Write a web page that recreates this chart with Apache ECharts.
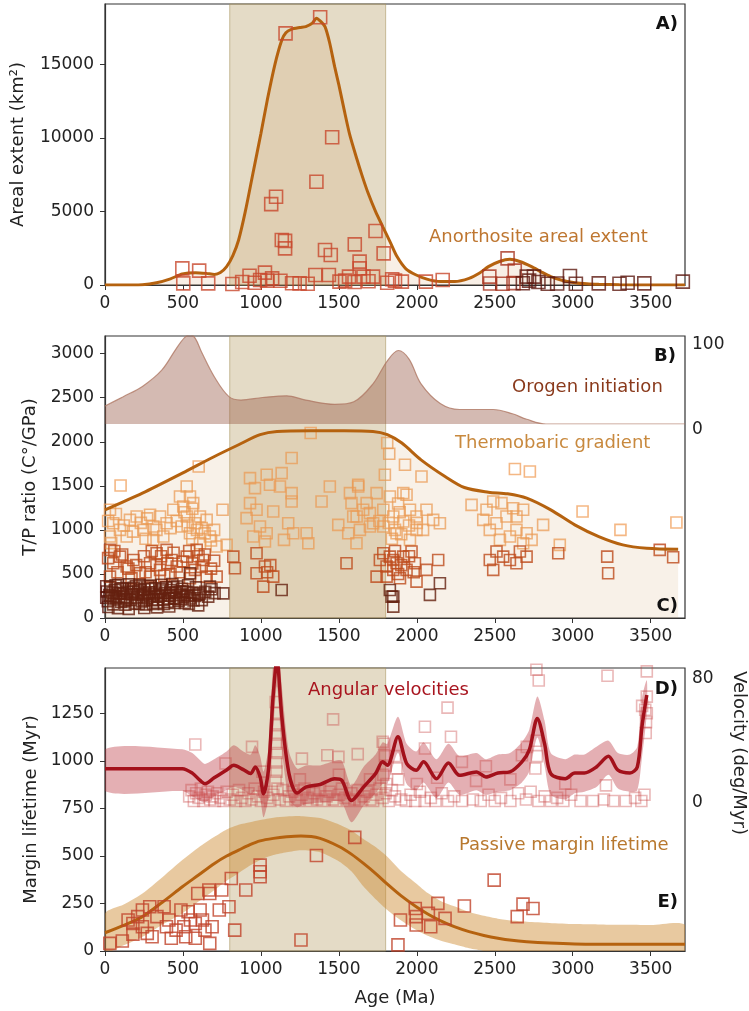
<!DOCTYPE html>
<html><head><meta charset="utf-8">
<script src="https://cdn.jsdelivr.net/npm/echarts@6/dist/echarts.min.js"></script>
<style>html,body{margin:0;padding:0;background:#fff}#c{width:749px;height:1011px}</style>
</head><body><div id="c"></div>
<script>
// ---------- Data ----------
const bandRange = [800,1800];

// Panel A: anorthosite areal extent (km2)
const aCurve = [[0,0],[150,5],[240,20],[330,150],[420,420],[496,750],[580,840],[650,790],[702,720],[740,850],[780,1250],[820,2000],[857,3060],[900,5000],[949,7600],[1000,10300],[1041,12580],[1090,15000],[1134,16650],[1160,17150],[1195,17380],[1250,17500],[1288,17560],[1330,17800],[1356,18130],[1385,17900],[1411,17560],[1440,16500],[1473,14840],[1500,13600],[1534,11900],[1570,10200],[1611,8720],[1650,7400],[1688,6230],[1735,5000],[1781,3970],[1830,2900],[1873,1930],[1930,1100],[1996,680],[2070,380],[2150,230],[2243,230],[2335,450],[2400,800],[2459,1250],[2530,1600],[2597,1745],[2660,1600],[2736,1250],[2800,880],[2859,570],[2930,320],[3013,160],[3090,80],[3167,45],[3300,15],[3500,5],[3720,0]];
const aRed = [[496,1130],[604,975],[502,110],[662,110],[817,70],[927,630],[1026,840],[995,340],[1072,450],[1125,290],[1066,5500],[1097,6000],[1158,17100],[1134,3060],[1155,3000],[1155,2490],[1248,110],[1356,7020],[1380,18200],[1349,680],[1411,2380],[1448,2040],[1457,10040],[1436,680],[1504,230],[1565,570],[1602,2760],[1633,1590],[1633,1130],[1735,3670],[1787,2150],[1658,570],[1719,570],[1842,390],[1904,230],[2058,230],[2166,340],[880,200],[960,150],[1040,300],[1200,120],[1300,80],[1540,300],[1600,200],[1690,250],[1810,150],[1860,300]];
const aMid = [[2465,570],[2582,1810],[2628,975],[2470,100],[2550,80],[2620,130]];
const aDark = [[2705,570],[2751,570],[2720,300],[2780,200],[2680,120],[2840,80],[2900,100],[2982,610],[3020,80],[3167,110],[3300,90],[3352,150],[3459,110],[3706,230]];

// Panel B: orogen initiation (0-100)
const bCurve = [[0,21],[117,32],[240,44],[364,63],[456,88],[510,101],[545,105],[580,100],[620,84],[702,55],[795,32],[872,28],[1011,31],[1165,33],[1288,28],[1473,23],[1596,26],[1719,47],[1811,74],[1882,86],[1950,76],[2027,47],[2150,24],[2274,17],[2397,17],[2489,17],[2613,12],[2705,5.5],[2828,0],[3720,0]];

// Panel C: thermobaric gradient (T/P ratio)
const cCurve = [[0,1227],[240,1417],[496,1644],[702,1833],[857,1966],[995,2080],[1103,2117],[1319,2125],[1534,2125],[1719,2117],[1811,2080],[1904,1985],[2027,1795],[2181,1606],[2305,1481],[2459,1428],[2582,1409],[2705,1360],[2859,1227],[3013,1057],[3167,924],[3321,830],[3475,792],[3676,780]];
const cLight = [[100,1504],[32,1228],[53,1076],[96,1000],[139,924],[32,924],[289,1171],[353,1152],[310,1038],[395,1076],[246,1000],[374,924],[502,1265],[524,1493],[545,1379],[566,1303],[524,1152],[492,1038],[577,1076],[609,1152],[545,962],[652,1114],[601,1720],[754,1228],[716,811],[780,830],[438,1228],[481,1379],[203,1152],[160,1114],[310,886],[609,849],[673,924],[20,1100],[70,1180],[120,1050],[180,980],[230,1080],[270,1130],[330,1000],[420,1020],[460,1100],[510,1200],[530,1050],[560,1240],[590,1000],[620,1020],[640,960],[680,880],[700,1000],[560,900],[40,850],[260,900],
[930,1587],[962,1474],[1037,1625],[1058,1512],[1133,1644],[1197,1815],[1197,1417],[1197,1322],[1122,1493],[930,1303],[972,1228],[908,1133],[994,1038],[951,924],[1037,962],[1026,868],[1079,1209],[1175,1076],[1148,886],[1207,962],[1293,962],[1304,849],[1319,2099],[1389,1322],[1442,1493],[1496,1057],[1571,1417],[1624,1512],[1581,1303],[1592,1152],[1656,1228],[1635,1000],[1560,962],[1613,849],[1720,1076],[1742,1417],[1699,1190],
[1810,1985],[1823,1864],[1924,1739],[1795,1625],[2030,1606],[1827,1379],[1913,1417],[1934,1398],[1624,1493],[1678,1303],[1785,1228],[1849,1152],[1913,1095],[1956,1228],[1998,1152],[2062,1228],[2105,1114],[2148,1076],[1998,1000],[1870,962],[1785,1038],[1956,886],[1699,1038],[1614,1152],[1820,1080],[1860,1000],[1890,1200],[1840,900],[1900,950],[1950,1050],[2000,1080],[2040,1000],[1880,1300],[1760,1100],
[2351,1284],[2447,1228],[2490,1322],[2543,1303],[2468,1000],[2511,1076],[2575,1152],[2618,1246],[2639,1152],[2682,1228],[2639,1000],[2704,962],[2736,886],[2597,924],[2533,886],[2810,1057],[2629,1690],[2725,1663],[2917,830],[3063,1209],[3306,1000],[3665,1084],[2426,1114],[2682,849]];
const cMed = [[32,773],[53,621],[96,697],[182,659],[32,470],[289,621],[331,735],[395,773],[427,659],[353,546],[289,470],[460,584],[524,697],[588,773],[630,659],[577,546],[652,470],[545,451],[224,508],[716,470],[139,584],[60,760],[110,720],[150,560],[250,700],[300,760],[360,700],[400,620],[440,740],[480,520],[500,640],[540,760],[600,700],[620,580],[680,560],[700,650],[420,500],[260,520],[200,600],[80,520],[170,450],[330,600],[380,480],[560,620],[640,720],[20,680],
[823,697],[833,565],[972,735],[972,508],[1026,584],[1079,470],[1015,356],[1040,520],[1060,600],[1549,621],[1742,470],[1785,735],[1806,584],[1849,659],
[1827,697],[1870,621],[1913,697],[1966,754],[1849,546],[1934,546],[1892,451],[1806,470],[1763,659],[1988,621],[2062,546],[2137,659],[1998,413],[1880,500],[1900,600],[1950,700],[1860,760],[1980,520],
[2468,659],[2490,546],[2554,697],[2597,659],[2661,754],[2704,697],[2639,621],[2511,754],[2907,735],[3221,697],[3227,508],[3558,773],[3644,689]];
const cDark = [[12,300],[18,190],[33,352],[41,248],[52,155],[63,318],[72,226],[84,377],[93,279],[104,183],[112,338],[124,237],[131,152],[143,297],[152,381],[163,204],[172,268],[184,343],[191,163],[205,232],[213,301],[222,376],[236,188],[244,262],[252,328],[263,154],[271,223],[284,292],[293,367],[302,203],[313,268],[322,338],[334,172],[343,243],[351,312],[362,377],[373,208],[384,282],[392,348],[403,183],[414,252],[423,318],[432,386],[443,224],[452,288],[463,357],[472,193],[484,262],[494,332],[503,243],[512,172],[523,298],[533,372],[546,221],[561,288],[583,348],[602,262],[621,203],[643,297],[662,243],[683,327],[703,282],[598,143],[22,124],[83,112],[152,104],[252,113],[334,121],[412,130],
[28,260],[58,210],[98,330],[138,210],[178,300],[218,160],[258,280],[298,330],[338,210],[378,160],[418,290],[458,220],[498,300],[538,160],[578,250],[118,280],[198,360],[278,360],[358,260],[438,350],
[8,230],[48,290],[88,240],[128,190],[168,330],[208,270],[248,200],[288,250],[328,290],[368,330],[408,220],[448,170],[488,210],[528,260],[568,200],[8,360],[68,370],[228,320],[308,160],[478,300],
[545,508],[759,280],[1133,318],[673,356],[609,280],[1849,243],[1849,129],[1827,318],[1838,243],[2084,262],[2148,394]];

// Panel D: angular velocities (deg/Myr)
const dX    = [0,496,560,610,641,700,780,826,887,934,964,995,1017,1048,1078,1103,1134,1180,1232,1288,1380,1473,1519,1581,1658,1735,1781,1811,1879,1935,1996,2043,2126,2203,2274,2382,2443,2520,2597,2674,2721,2773,2819,2859,2952,3013,3075,3152,3229,3290,3367,3414,3445,3475];
const dLine = [21.9,21.9,19,14.3,12.2,16,21,24.1,21.3,18.7,23,16.5,5.7,20.9,68.5,92,55.5,18.7,6.1,10,11.7,15.4,14.3,1.3,10,18.7,26.3,24.1,42.5,25.2,20.9,26.3,15.4,25.6,17.6,19.8,16.5,19.1,19.8,26.3,33.9,54.4,38.2,18.7,15.4,19.1,19.1,23,29.9,20.9,19.1,23,50,69.6];
const dLow  = [7.4,7.4,4,1,0,4,8,10,8,5,8,2,-9.5,3,45,75,35,2,-3,-1,0,1,0,-12.7,-2,6,12,12,32,12,8,13,3,13,5,8,5,7,8,13,20,42,24,5,2,6,7,10,18,9,7,8,30,57.7];
const dHigh = [34.5,34.5,32,27.4,25,28,33,37,33,31,37,30,20,35,90,110,75,33,22,24,24,27,27,11,23,31,39,38,55.5,38,33,39,28,38,30,32,28,31,32,39,47,68.5,53,32,28,31,31,36,40,32,31,36,68,79];
const dPts = [[540,4],[555,8],[570,1],[585,6],[600,3],[615,9],[630,1],[645,5],[660,7],[675,2],[690,4],[705,1],[720,6],[740,3],[760,1],[780,7],[800,2],[820,5],[840,1],[860,8],[880,3],[900,1],[920,6],[940,2],[960,9],[980,4],[1000,1],[1020,7],[1040,3],[1060,1],[1080,5],[1120,2],[1140,8],[1160,1],[1180,4],[1200,7],[1220,2],[1240,1],[1260,5],[1280,9],[1300,3],[1320,1],[1340,6],[1360,2],[1380,8],[1400,1],[1420,4],[1440,7],[1460,2],[1480,1],[1500,5],[1520,9],[1540,3],[1560,1],[1580,6],[1600,2],[1620,8],[1640,1],[1660,4],[1680,7],[1700,2],[1720,1],[1740,5],[1760,9],[1780,3],[1800,6],[1820,1],[1840,8],[1860,4],[1900,2],[1930,1],[1960,5],[1990,1],[2020,7],[2050,1],[2090,3],[2120,1],[2160,6],[2200,1],[2240,4],[2290,1],[2360,2],[2410,1],[2460,5],[2500,1],[2540,3],[2600,1],[2650,6],[2700,2],[2730,7],[2780,1],[2820,4],[2860,1],[2900,3],[2940,1],[2990,5],[3050,1],[3130,1],[3200,2],[3260,1],[3340,1],[3400,3],[3440,1],[3460,5],
[579,37.5],[773,25.2],[943,36],[1263,28.4],[1463,53.8],[1426,30.6],[1497,29.5],[1621,31.3],[1781,39.3],[2052,49],[2052,34.9],[2197,61.4],[2219,42.5],[2767,85.9],[2782,78.9],[3223,82],[3475,84.8],[3475,57.7],[3475,68.5],[3445,62.5],[2705,36],[2674,30.6],[2289,26.3],[2443,23.5],[2952,12.2],[3213,11.1],[1010,20],[1500,18],[1700,15],[1250,15],[2000,12],[2130,16],[2380,14],[2600,15],
[1095,65],[1100,58],[1098,50],[1102,44],[1096,38],[1104,32],[1098,26],[1100,20],[1094,14],[1106,9],[1790,38],[1795,30],[1800,24],[1785,18],[1805,12],[1860,30],[1870,22],[1880,15],[2765,40],[2770,30],[2760,22],[3465,60],[3470,52],[3468,45]];

// Panel E: passive margin lifetime (Myr)
const eX    = [0,120,240,370,496,600,702,780,857,930,995,1080,1165,1257,1380,1504,1580,1658,1740,1811,1900,1996,2070,2150,2240,2335,2430,2520,2610,2705,2850,3013,3160,3321,3500,3720];
const eLine = [96,135,181,258,338,400,461,500,531,560,580,593,601,605,593,549,510,461,405,352,290,233,195,160,128,102,82,67,56,49,42,37,36,35,35,35];
const eLow  = [-5,30,75,140,198,260,321,370,410,450,479,505,520,531,520,470,420,340,270,216,160,110,80,55,35,14,0,-15,-30,-45,-55,-62,-65,-67,-67,-67];
const eHigh = [198,245,303,390,479,545,601,640,665,678,690,702,708,710,700,665,635,590,545,496,420,356,305,265,235,205,185,170,160,154,148,142,140,138,137,137];
const ePts = [[31,40],[111,53],[148,163],[179,145],[210,181],[240,216],[287,233],[179,89],[271,93],[302,75],[379,233],[410,163],[425,67],[456,110],[506,128],[533,207],[548,163],[579,145],[595,303],[610,216],[625,163],[518,75],[579,67],[641,110],[672,303],[666,321],[687,128],[672,40],[733,216],[749,321],[795,233],[810,382],[832,110],[903,321],[995,391],[995,452],[995,417],[333,181],[487,216],[240,128],[394,128],[1257,58],[1356,503],[1602,598],[1879,32],[1895,163],[1990,224],[1996,181],[1996,137],[2074,198],[2089,128],[2135,251],[2181,172],[2305,237],[2496,373],[2644,181],[2681,247],[2745,224]];

// ---------- Chart ----------
const FONT = 'DejaVu Sans';
const AX = '#333';
const XMAX = 3720;
const plain = v => String(v);
function xAxis(gi, showLabels, extra) {
  return Object.assign({
    type:'value', gridIndex:gi, min:0, max:XMAX, interval:500,
    axisLine:{show:true, onZero:false, lineStyle:{color:AX, width:1.2}},
    axisTick:{show:showLabels, length:5, lineStyle:{color:AX}},
    axisLabel:{show:showLabels, showMaxLabel:false, fontSize:17, color:'#222', fontFamily:FONT, margin:10, formatter:plain},
    splitLine:{show:false}
  }, extra||{});
}
function yLeft(gi, max, interval, name, gap) {
  return {
    type:'value', gridIndex:gi, position:'left', min:0, max:max, interval:interval,
    name:name, nameLocation:'middle', nameGap:gap, nameRotate:90,
    nameTextStyle:{fontSize:18, color:'#222', fontFamily:FONT},
    axisLine:{show:true, lineStyle:{color:AX, width:1.2}},
    axisTick:{show:true, length:5, lineStyle:{color:AX}},
    axisLabel:{showMaxLabel:false, fontSize:17, color:'#222', fontFamily:FONT, margin:11, formatter:plain},
    splitLine:{show:false}
  };
}
function yRightLabels(gi, min, max, interval, shown) {
  return {
    type:'value', gridIndex:gi, position:'right', min:min, max:max, interval:interval,
    axisLine:{show:false}, axisTick:{show:false}, splitLine:{show:false},
    axisLabel:{interval:0, showMinLabel:true, showMaxLabel:false, fontSize:17, color:'#222', fontFamily:FONT, margin:7,
      formatter: v => shown.indexOf(v) >= 0 ? String(v) : ''}
  };
}
function scatter(data, xi, yi, color, size, z) {
  return {type:'scatter', xAxisIndex:xi, yAxisIndex:yi, data:data, symbol:'rect', symbolSize:size, z:z||5,
    itemStyle:{color:'rgba(0,0,0,0)', borderColor:color, borderWidth:1.6}, silent:true};
}
function bandSeries(xi, yi) {
  return {type:'line', xAxisIndex:xi, yAxisIndex:yi, data:[[0,0]], symbol:'none', lineStyle:{opacity:0}, z:1, silent:true,
    markArea:{silent:true, itemStyle:{color:'rgba(190,170,120,0.42)', borderColor:'rgba(170,150,100,0.6)', borderWidth:1},
      data:[[{xAxis:bandRange[0]},{xAxis:bandRange[1]}]]}};
}
// Uncertainty envelope drawn as polygon through the axes' scales
function envelope(xs, lo, hi, xi, yi, color, z) {
  return {type:'custom', xAxisIndex:xi, yAxisIndex:yi, coordinateSystem:'cartesian2d', clip:true, silent:true, z:z||2,
    data: xs.map((x,i)=>[x, lo[i], hi[i]]),
    renderItem: (params, api) => {
      if (params.dataIndex !== 0) return null;
      const upper = xs.map((x,i)=>api.coord([x, hi[i]]));
      const lower = xs.map((x,i)=>api.coord([x, lo[i]])).reverse();
      return {type:'polygon', shape:{points:upper.concat(lower), smooth:0.25}, style:{fill:color, stroke:null}};
    }};
}

const grids = [
  {left:105, right:64, top:4, height:281, show:true, borderColor:AX, borderWidth:1.2},
  {left:105, right:64, top:336, height:282, show:true, borderColor:AX, borderWidth:1.2},
  {left:105, right:64, top:336, height:88, show:false},
  {left:105, right:64, top:668, height:283, show:true, borderColor:AX, borderWidth:1.2}
];

const option = {
  animation:false,
  backgroundColor:'#fff',
  textStyle:{fontFamily:FONT},
  grid: grids,
  xAxis: [
    xAxis(0, true),
    xAxis(1, true),
    xAxis(2, false, {show:false}),
    xAxis(3, true, {name:'Age (Ma)', nameLocation:'middle', nameGap:38, nameTextStyle:{fontSize:18, color:'#222', fontFamily:FONT}})
  ],
  yAxis: [
    yLeft(0, 19100, 5000, 'Areal extent (km²)', 78),
    yLeft(1, 3200, 500, 'T/P ratio (C°/GPa)', 66),
    yRightLabels(1, -220, 110, 10, [0,100]),
    {type:'value', gridIndex:2, min:0, max:103, show:false},
    yLeft(3, 1490, 250, 'Margin lifetime (Myr)', 64),
    yRightLabels(3, -96, 87, 8, [0,80])
  ],
  series: [
    // Panel A
    bandSeries(0,0),
    {type:'line', xAxisIndex:0, yAxisIndex:0, data:aCurve, smooth:0.25, symbol:'none', z:4,
     lineStyle:{color:'#b5620f', width:3}, areaStyle:{color:'rgba(195,120,45,0.17)'}},
    scatter(aRed,0,0,'#c8472c',13),
    scatter(aMid,0,0,'#a83420',13),
    scatter(aDark,0,0,'#5e1a12',13),
    // Panel B
    {type:'line', xAxisIndex:2, yAxisIndex:3, data:bCurve, smooth:0.35, symbol:'none', z:2,
     lineStyle:{color:'rgba(175,120,100,0.8)', width:1.2}, areaStyle:{color:'rgba(150,85,65,0.58)'}},
    // Panel C
    bandSeries(1,1),
    {type:'line', xAxisIndex:1, yAxisIndex:1, data:cCurve, smooth:0.3, symbol:'none', z:6,
     lineStyle:{color:'#b5620f', width:3}, areaStyle:{color:'rgba(200,140,75,0.18)'}},
    scatter(cLight,1,1,'rgba(240,155,85,0.9)',11),
    scatter(cMed,1,1,'#bd4217',11),
    scatter(cDark,1,1,'#581208',11),
    // Panel D / E
    bandSeries(3,4),
    envelope(eX, eLow, eHigh, 3, 4, 'rgba(205,135,45,0.45)', 2),
    {type:'line', xAxisIndex:3, yAxisIndex:4, data:eX.map((x,i)=>[x,eLine[i]]), smooth:0.3, symbol:'none', z:4,
     lineStyle:{color:'#b5620f', width:3}},
    scatter(ePts,3,4,'#c0442a',12),
    envelope(dX, dLow, dHigh, 3, 5, 'rgba(185,45,55,0.38)', 2),
    scatter(dPts,3,5,'rgba(200,70,70,0.48)',11,3),
    {type:'line', xAxisIndex:3, yAxisIndex:5, data:dX.map((x,i)=>[x,dLine[i]]), smooth:0.3, symbol:'none', z:6,
     lineStyle:{color:'#a3111b', width:3.5}}
  ],
  graphic: [
    {type:'text', x:429, y:237, style:{text:'Anorthosite areal extent', fill:'#be7630', font:'18px "DejaVu Sans"', align:'left', verticalAlign:'middle', textAlign:'left', textVerticalAlign:'middle'}, z:100},
    {type:'text', x:512, y:387, style:{text:'Orogen initiation', fill:'#8a3a1c', font:'18px "DejaVu Sans"', align:'left', verticalAlign:'middle', textAlign:'left', textVerticalAlign:'middle'}, z:100},
    {type:'text', x:455, y:443, style:{text:'Thermobaric gradient', fill:'#c8893e', font:'18px "DejaVu Sans"', align:'left', verticalAlign:'middle', textAlign:'left', textVerticalAlign:'middle'}, z:100},
    {type:'text', x:308, y:690, style:{text:'Angular velocities', fill:'#a8141e', font:'18px "DejaVu Sans"', align:'left', verticalAlign:'middle', textAlign:'left', textVerticalAlign:'middle'}, z:100},
    {type:'text', x:459, y:845, style:{text:'Passive margin lifetime', fill:'#b8782e', font:'18px "DejaVu Sans"', align:'left', verticalAlign:'middle', textAlign:'left', textVerticalAlign:'middle'}, z:100},
    {type:'text', x:678, y:24, style:{text:'A)', fill:'#111', font:'bold 18px "DejaVu Sans"', align:'right', verticalAlign:'middle', textAlign:'right', textVerticalAlign:'middle'}, z:100},
    {type:'text', x:676, y:356, style:{text:'B)', fill:'#111', font:'bold 18px "DejaVu Sans"', align:'right', verticalAlign:'middle', textAlign:'right', textVerticalAlign:'middle'}, z:100},
    {type:'text', x:678, y:606, style:{text:'C)', fill:'#111', font:'bold 18px "DejaVu Sans"', align:'right', verticalAlign:'middle', textAlign:'right', textVerticalAlign:'middle'}, z:100},
    {type:'text', x:678, y:689, style:{text:'D)', fill:'#111', font:'bold 18px "DejaVu Sans"', align:'right', verticalAlign:'middle', textAlign:'right', textVerticalAlign:'middle'}, z:100},
    {type:'text', x:678, y:902, style:{text:'E)', fill:'#111', font:'bold 18px "DejaVu Sans"', align:'right', verticalAlign:'middle', textAlign:'right', textVerticalAlign:'middle'}, z:100},
    {type:'text', x:739, y:753, rotation:-Math.PI/2, style:{text:'Velocity (deg/Myr)', fill:'#222', font:'18px "DejaVu Sans"', align:'center', verticalAlign:'middle', textAlign:'center', textVerticalAlign:'middle'}, z:100}
  ]
};
const chart = echarts.init(document.getElementById('c'), null, {renderer:'canvas'});
chart.setOption(option);
</script></body></html>
